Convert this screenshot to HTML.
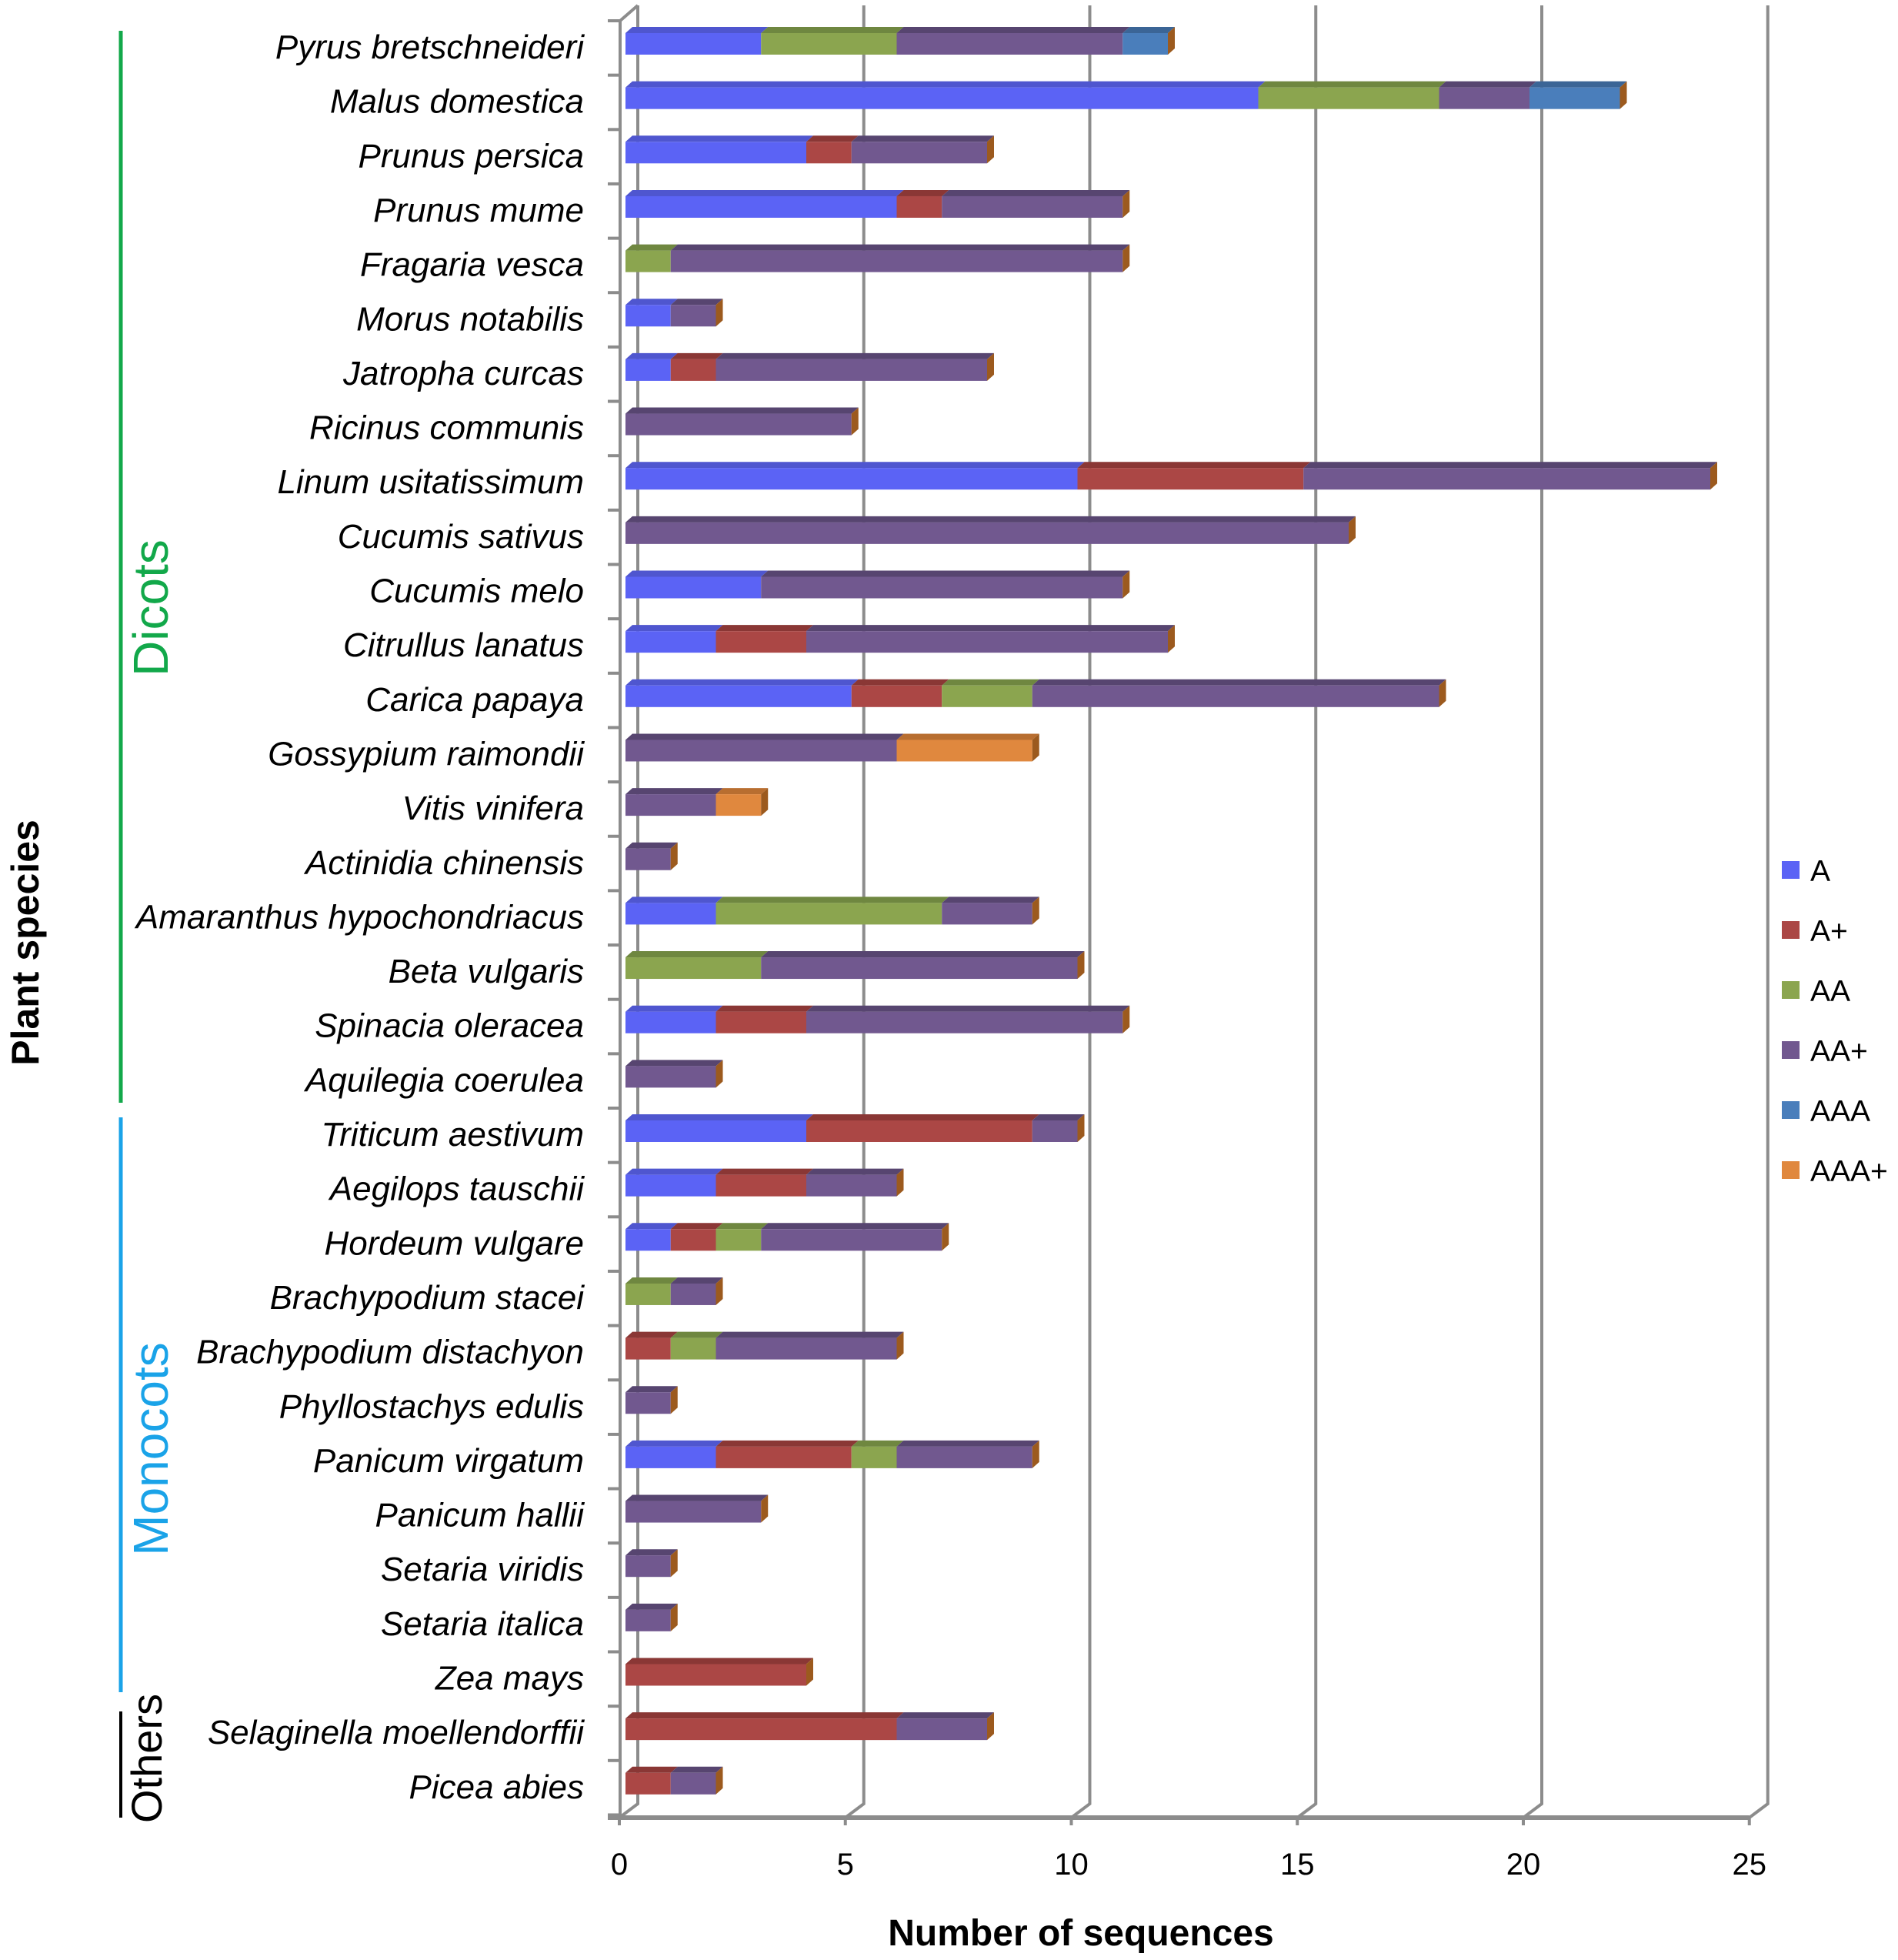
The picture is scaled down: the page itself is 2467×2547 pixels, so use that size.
<!DOCTYPE html>
<html><head><meta charset="utf-8">
<style>
html,body{margin:0;padding:0;background:#fff;}
svg{display:block;font-family:"Liberation Sans",sans-serif;}
</style></head>
<body>
<svg id="chart" width="2467" height="2547" viewBox="0 0 2467 2547" xmlns="http://www.w3.org/2000/svg">
<g id="grid"></g>
<g id="bars"></g>
<g id="labels"></g>
<g id="xticks"></g>
<text x="1405" y="2528" text-anchor="middle" font-size="48" font-weight="bold">Number of sequences</text>
<text transform="translate(50,1225) rotate(-90)" text-anchor="middle" font-size="50" font-weight="bold">Plant species</text>
<line x1="157" y1="40" x2="157" y2="1433" stroke="#12a84a" stroke-width="5"/>
<text transform="translate(218,790) rotate(-90)" text-anchor="middle" font-size="64" fill="#12a84a">Dicots</text>
<line x1="157" y1="1452" x2="157" y2="2199" stroke="#1aa3e8" stroke-width="5"/>
<text transform="translate(218,1883) rotate(-90)" text-anchor="middle" font-size="64" fill="#1aa3e8">Monocots</text>
<line x1="157" y1="2224" x2="157" y2="2362" stroke="#000" stroke-width="4"/>
<text transform="translate(210,2285) rotate(-90)" text-anchor="middle" font-size="56" fill="#000">Others</text>
<g id="legend"></g>
</svg>
<script>
const categories = ["Pyrus bretschneideri","Malus domestica","Prunus persica","Prunus mume","Fragaria vesca","Morus notabilis","Jatropha curcas","Ricinus communis","Linum usitatissimum","Cucumis sativus","Cucumis melo","Citrullus lanatus","Carica papaya","Gossypium raimondii","Vitis vinifera","Actinidia chinensis","Amaranthus hypochondriacus","Beta vulgaris","Spinacia oleracea","Aquilegia coerulea","Triticum aestivum","Aegilops tauschii","Hordeum vulgare","Brachypodium stacei","Brachypodium distachyon","Phyllostachys edulis","Panicum virgatum","Panicum hallii","Setaria viridis","Setaria italica","Zea mays","Selaginella moellendorffii","Picea abies"];
const seriesNames = ["A","A+","AA","AA+","AAA","AAA+"];
const valA    = [3,14,4,6,0,1,1,0,10,0,3,2,5,0,0,0,2,0,2,0,4,2,1,0,0,0,2,0,0,0,0,0,0];
const valAp   = [0,0,1,1,0,0,1,0,5,0,0,2,2,0,0,0,0,0,2,0,5,2,1,0,1,0,3,0,0,0,4,6,1];
const valAA   = [3,4,0,0,1,0,0,0,0,0,0,0,2,0,0,0,5,3,0,0,0,0,1,1,1,0,1,0,0,0,0,0,0];
const valAAp  = [5,2,3,4,10,1,6,5,9,16,8,8,9,6,2,1,2,7,7,2,1,2,4,1,4,1,3,3,1,1,0,2,1];
const valAAA  = [1,2,0,0,0,0,0,0,0,0,0,0,0,0,0,0,0,0,0,0,0,0,0,0,0,0,0,0,0,0,0,0,0];
const valAAAp = [0,0,0,0,0,0,0,0,0,0,0,0,0,3,1,0,0,0,0,0,0,0,0,0,0,0,0,0,0,0,0,0,0];
const xTicks = [0,5,10,15,20,25];

const series=[valA,valAp,valAA,valAAp,valAAA,valAAAp];
const front=["#5b63f5","#ab4745","#8ba54f","#71588f","#4a7ebb","#e0883e"];
const topc=["#4f56cf","#8a3735","#6f8740","#574570","#3b6596","#b86e30"];
const NS="http://www.w3.org/2000/svg";
function el(tag,attrs,parent){const e=document.createElementNS(NS,tag);for(const k in attrs)e.setAttribute(k,attrs[k]);parent.appendChild(e);return e;}
const X0=813, UNIT=58.75;
function xs(v){return X0+v*UNIT;}
function rowTop(i){return 43+i*70.65;}
const BH=28, TD=8, DX=9;

const g=document.getElementById('grid');
const BX0=829, BUNIT=58.75, FX0=805;
xTicks.forEach((t,i)=>{
  const bx=BX0+t*BUNIT, fx=FX0+t*BUNIT;
  const p=el('polyline',{points:`${bx},7 ${bx},2344 ${fx},2362 ${fx},2372`,fill:'none',stroke:'#8c8c8c','stroke-width':4},g);
  
  
});
const ax=el('polyline',{points:`829,7 806,27 806,2362`,fill:'none',stroke:'#8c8c8c','stroke-width':4},g);


const fl=el('line',{x1:790,y1:2362,x2:FX0+25*BUNIT,y2:2362,stroke:'#8c8c8c','stroke-width':6},g);


for(let k=0;k<=categories.length;k++){
  const y=27+k*70.65;
  const tk=el('line',{x1:790,y1:y,x2:806,y2:y,stroke:'#8c8c8c','stroke-width':4},g);
  
  
}
const xt=document.getElementById('xticks');
xTicks.forEach(t=>{
  const tx=el('text',{x:FX0+t*BUNIT,y:2436,'text-anchor':'middle','font-size':40},xt);
  tx.textContent=t;
  
  
});
const gb=document.getElementById('bars');
const gl=document.getElementById('labels');
categories.forEach((c,i)=>{
  const y=rowTop(i);
  let acc=0;
  series.forEach((s,j)=>{
    const v=s[i]; if(!v) return;
    const x1=xs(acc), x2=xs(acc+v);
    const tp=el('polygon',{points:`${x1},${y} ${x1+DX},${y-TD} ${x2+DX},${y-TD} ${x2},${y}`,fill:topc[j]},gb);
    
    
    const r=el('rect',{x:x1,y:y,width:x2-x1,height:BH,fill:front[j]},gb);
    
    
    acc+=v;
  });
  const xe=xs(acc);
  const cap=el('polygon',{points:`${xe},${y} ${xe+DX},${y-TD} ${xe+DX},${y+BH-TD} ${xe},${y+BH}`,fill:'#9c5a1e'},gb);
  
  
  const t=el('text',{x:759,y:y+33,'text-anchor':'end','font-size':44,'font-style':'italic'},gl);
  t.textContent=c;
  
  
});
const lg=document.getElementById('legend');
seriesNames.forEach((n,j)=>{
  const y=1131+j*78;
  const r=el('rect',{x:2316,y:y-12,width:23,height:23,fill:front[j]},lg);
  
  
  const t=el('text',{x:2353,y:y+14,'font-size':39},lg);
  t.textContent=n;
  
  
});
</script>
</body></html>
